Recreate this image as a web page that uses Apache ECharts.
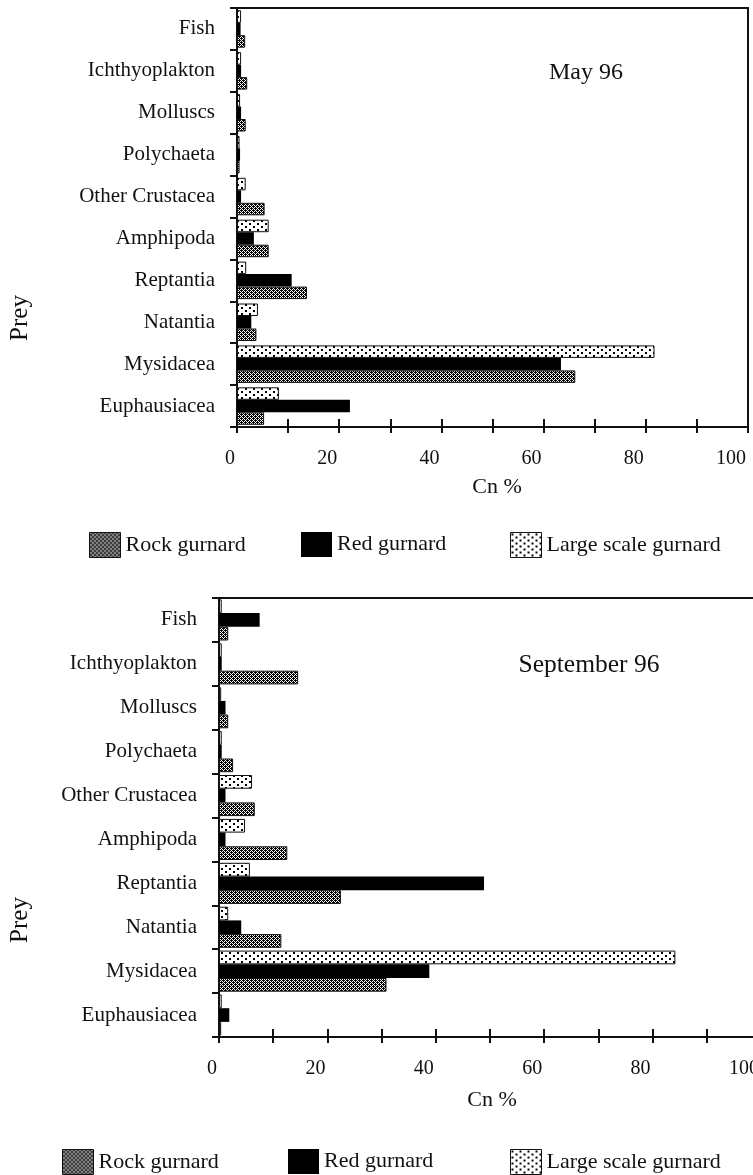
<!DOCTYPE html>
<html><head><meta charset="utf-8">
<script src="https://cdn.jsdelivr.net/npm/echarts@6/dist/echarts.min.js"></script>
<style>html,body{margin:0;padding:0;background:#fff}#c{width:753px;height:1175px}</style>
</head><body><div id="c"></div>
<script>
const categories = ['Fish','Ichthyoplakton','Molluscs','Polychaeta','Other Crustacea','Amphipoda','Reptantia','Natantia','Mysidacea','Euphausiacea'];
const seriesNames = ['Rock gurnard','Red gurnard','Large scale gurnard'];
// May 96 (Cn %)
const mayRock  = [1.6, 2.0, 1.7, 0.5, 5.4, 6.2, 13.7, 3.8, 66.2, 5.3];
const mayRed   = [0.7, 0.8, 0.8, 0.6, 0.8, 3.3, 10.7, 2.8, 63.4, 22.1];
const mayLarge = [0.8, 0.8, 0.6, 0.5, 1.7, 6.2, 1.8, 4.1, 81.7, 8.2];
// September 96 (Cn %)
const sepRock  = [1.7, 14.6, 1.7, 2.6, 6.6, 12.6, 22.5, 11.5, 30.9, 0.4];
const sepRed   = [7.5, 0.5, 1.2, 0.5, 1.2, 1.2, 48.9, 4.1, 38.8, 1.9];
const sepLarge = [0.5, 0.5, 0.4, 0.5, 6.1, 4.8, 5.7, 1.7, 84.2, 0.5];
const tickLabels = [0, 20, 40, 60, 80, 100];
const titles = ['May 96', 'September 96'];

const SERIF = '"Liberation Serif", "Times New Roman", serif';
const INK = '#111';

function rockPattern() {
  const c = document.createElement('canvas'); c.width = 4; c.height = 4;
  const g = c.getContext('2d');
  g.fillStyle = '#fff'; g.fillRect(0, 0, 4, 4);
  g.fillStyle = '#000';
  for (let y = 0; y < 4; y++) for (let x = 0; x < 4; x++) {
    if ((x + y) % 2 === 0 || (x === 1 && y === 2) || (x === 3 && y === 0)) g.fillRect(x, y, 1, 1);
  }
  return c;
}
function dotPattern() {
  const c = document.createElement('canvas'); c.width = 8; c.height = 6;
  const g = c.getContext('2d');
  g.fillStyle = '#fff'; g.fillRect(0, 0, 8, 6);
  g.fillStyle = '#000';
  g.fillRect(1, 1, 2, 2); g.fillRect(5, 4, 2, 2);
  return c;
}
const styles = [
  { color: { image: rockPattern(), repeat: 'repeat' }, borderColor: INK, borderWidth: 1 },
  { color: '#000', borderColor: '#000', borderWidth: 0 },
  { color: { image: dotPattern(), repeat: 'repeat' }, borderColor: INK, borderWidth: 1 }
];

const grids = [
  { left: 237, top: 8, width: 511, height: 419, show: true, borderColor: INK, borderWidth: 2, outerBoundsMode: 'none', containLabel: false },
  { left: 219, top: 598, width: 542, height: 439, show: true, borderColor: INK, borderWidth: 2, outerBoundsMode: 'none', containLabel: false }
];

function mainX(gi, margin) {
  return {
    type: 'value', gridIndex: gi, min: 0, max: 100, interval: 10,
    axisLine: { show: true, lineStyle: { color: INK, width: 2 } },
    axisTick: { show: true, inside: false, length: 6, lineStyle: { color: INK, width: 2 } },
    splitLine: { show: false },
    axisLabel: {
      show: true, margin: margin, fontFamily: SERIF, fontSize: 20, color: INK,
      align: 'right', padding: [0, 2, 0, 0], showMaxLabel: true, showMinLabel: true,
      formatter: v => (tickLabels.indexOf(v) >= 0 ? String(v) : '')
    }
  };
}
function overlayX(gi) {
  return {
    type: 'value', gridIndex: gi, min: 0, max: 100, interval: 10, position: 'bottom',
    axisLine: { show: false },
    axisTick: { show: true, inside: true, length: 8, lineStyle: { color: INK, width: 2 } },
    splitLine: { show: false }, axisLabel: { show: false }
  };
}
function catY(gi) {
  return {
    type: 'category', gridIndex: gi, data: categories, inverse: true,
    axisLine: { show: true, lineStyle: { color: INK, width: 2 } },
    axisTick: { show: true, length: 7, lineStyle: { color: INK, width: 2 } },
    axisLabel: { margin: 22, fontFamily: SERIF, fontSize: 21, color: INK },
    splitLine: { show: false }
  };
}

const dataSets = [[mayRock, mayRed, mayLarge], [sepRock, sepRed, sepLarge]];
const barW = [12.5, 13.7];
const drawOrder = [2, 1, 0]; // large scale on top of each group, rock at bottom
const series = [];
dataSets.forEach((set, gi) => {
  drawOrder.forEach(si => {
    series.push({
      type: 'bar', name: seriesNames[si], xAxisIndex: gi * 2, yAxisIndex: gi,
      data: set[si], barWidth: barW[gi], barGap: '0%',
      itemStyle: styles[si], emphasis: { disabled: true }
    });
  });
});

const legendPos = [
  [{ left: 89, top: 532 }, { left: 301, top: 532 }, { left: 510, top: 532 }],
  [{ left: 62, top: 1149 }, { left: 288, top: 1149 }, { left: 510, top: 1149 }]
];
const legends = [];
legendPos.forEach(row => row.forEach((p, si) => {
  legends.push({
    left: p.left, top: p.top, padding: 0, orient: 'horizontal',
    itemWidth: 31, itemHeight: 25, selectedMode: false, icon: 'rect',
    textStyle: { fontFamily: SERIF, fontSize: 22, color: INK },
    data: [{ name: seriesNames[si], icon: 'rect', itemStyle: styles[si] }]
  });
}));

const textEl = (x, y, text, size, rot) => ({
  type: 'text', x: x, y: y, rotation: rot || 0, silent: true,
  style: { text: text, font: size + 'px ' + SERIF, fill: INK, align: 'center', verticalAlign: 'middle' }
});

const option = {
  backgroundColor: '#fff',
  animation: false,
  grid: grids,
  xAxis: [mainX(0, 22), overlayX(0), mainX(1, 22), overlayX(1)],
  yAxis: [catY(0), catY(1)],
  legend: legends,
  series: series,
  graphic: [
    textEl(586, 73, titles[0], 24),
    textEl(589, 665, titles[1], 25.5),
    textEl(20, 318, 'Prey', 25, Math.PI / 2),
    textEl(20, 920, 'Prey', 25, Math.PI / 2),
    textEl(497, 487, 'Cn %', 22),
    textEl(492, 1100, 'Cn %', 22)
  ]
};
const chart = echarts.init(document.getElementById('c'), null, { renderer: 'canvas' });
chart.setOption(option);
</script></body></html>
